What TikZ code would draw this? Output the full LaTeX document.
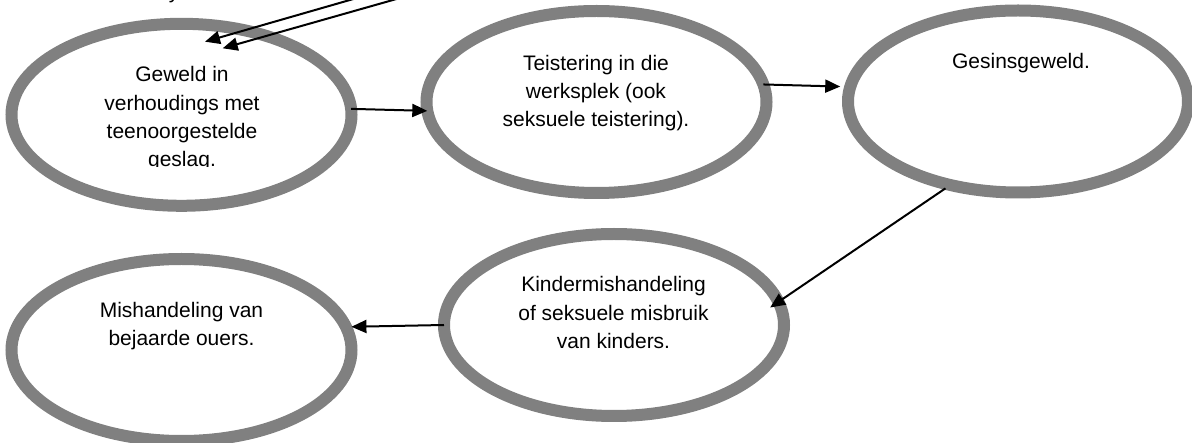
\documentclass[tikz,border=0pt]{standalone}
\usepackage{fontspec}
\setmainfont{Liberation Sans}
\usetikzlibrary{arrows.meta,shapes.geometric}
\definecolor{ringgray}{RGB}{128,128,128}
\begin{document}
\begin{tikzpicture}[x=1pt,y=-1pt,
  bubble/.style={ellipse, draw=ringgray, line width=12pt, fill=none,
    minimum width=340pt, minimum height=182pt, inner sep=0pt, outer sep=0pt},
  txt/.style={anchor=north, align=center, inner sep=0pt, text=black,
    font=\fontsize{21}{28.2}\selectfont},
  link/.style={draw=black, line width=2pt, -{Triangle[length=15pt,width=13pt]}}]
\useasboundingbox (0,0) rectangle (1192,443);
\clip (0,0) rectangle (1192,443);

% ellipses
\node[bubble] (e1) at (181.5,114.8) {};
\node[bubble] (e2) at (596.5,102) {};
\node[bubble] (e3) at (1018,101.5) {};
\node[bubble] (e4) at (614,325) {};
\node[bubble] (e5) at (181.5,350) {};

% texts
\begin{scope}
\clip (0,0) rectangle (400,167);
\node[txt] (t1) at (182,65.7) {\rule{0pt}{16pt}Geweld in\\verhoudings met\\teenoorgestelde\\geslag.};
\end{scope}
\node[txt] (t2) at (596,54) {\rule{0pt}{16pt}Teistering in die\\werksplek (ook\\seksuele teistering).};
\node[txt] (t3) at (1021,52.3) {\rule{0pt}{16pt}Gesinsgeweld.};
\node[txt] (t4) at (613.5,275.7) {\rule{0pt}{16pt}Kindermishandeling\\of seksuele misbruik\\van kinders.};
\node[txt] (t5) at (181.5,301.3) {\rule{0pt}{16pt}Mishandeling van\\bejaarde ouers.};
\node[anchor=base, inner sep=0pt, font=\fontsize{21}{28.2}\selectfont] (yfrag) at (174,-1.5) {y};

% free ends of the two top arrows
\coordinate (s1) at (367.3,-5);
\coordinate (h1) at (205,41.7);
\coordinate (s2) at (410.6,-5);
\coordinate (h2) at (222.7,48.3);

% connectors
\draw[link] (s1) -- (h1);
\draw[link] (s2) -- (h2);
\draw[link] (e1.2) -- (e2.183);
\draw[link, shorten >=10pt] (e2.6) -- (e3.175);
\draw[link, shorten <=6pt, shorten >=-10pt] (e3.-129) -- (e4.8);
\draw[link, shorten >=5.5pt] (e4.180) -- (e5.8);
\end{tikzpicture}
\end{document}
